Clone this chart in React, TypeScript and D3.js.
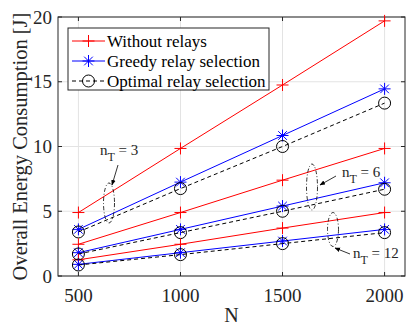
import React from 'react';
import * as d3 from 'd3';

// x values (number of nodes)
const nValues = [500, 1000, 1500, 2000];

// energy consumption per n_T
const withoutRelays3 = [4.9, 9.85, 14.75, 19.7];
const greedy3 = [3.6, 7.25, 10.85, 14.45];
const optimal3 = [3.4, 6.75, 10.0, 13.35];

const withoutRelays6 = [2.45, 4.9, 7.4, 9.85];
const greedy6 = [1.8, 3.6, 5.4, 7.2];
const optimal6 = [1.7, 3.35, 5.0, 6.7];

const withoutRelays12 = [1.25, 2.45, 3.7, 4.9];
const greedy12 = [0.9, 1.8, 2.7, 3.6];
const optimal12 = [0.85, 1.65, 2.5, 3.35];

const yTicks = [0, 5, 10, 15, 20];
const legendLabels = ['Without relays', 'Greedy relay selection', 'Optimal relay selection'];

type Kind = 'without' | 'greedy' | 'optimal';

const series: {kind: Kind, values: number[]}[] = [
  {kind: 'without', values: withoutRelays3},
  {kind: 'greedy', values: greedy3},
  {kind: 'optimal', values: optimal3},
  {kind: 'without', values: withoutRelays6},
  {kind: 'greedy', values: greedy6},
  {kind: 'optimal', values: optimal6},
  {kind: 'without', values: withoutRelays12},
  {kind: 'greedy', values: greedy12},
  {kind: 'optimal', values: optimal12},
];

const colorOf: Record<Kind, string> = {without: '#ff0000', greedy: '#0000ff', optimal: '#000000'};

const Marker: React.FC<{kind: Kind, x: number, y: number}> = ({kind, x, y}) => {
  const s = 6;
  if (kind === 'without') {
    return <path d={`M${x - s},${y}H${x + s}M${x},${y - s}V${y + s}`} stroke="#ff0000" strokeWidth={1}/>;
  }
  if (kind === 'greedy') {
    const d = s * 0.72;
    return <path d={`M${x - s},${y}H${x + s}M${x},${y - s}V${y + s}M${x - d},${y - d}L${x + d},${y + d}M${x - d},${y + d}L${x + d},${y - d}`}
                 stroke="#0000ff" strokeWidth={1}/>;
  }
  return <circle cx={x} cy={y} r={6} fill="none" stroke="#000" strokeWidth={1}/>;
};

const font = "'Liberation Serif', 'Times New Roman', Times, serif";

const App: React.FC = () => {
  const width = 407, height = 327;
  const margin = {top: 17, right: 2, bottom: 51, left: 58};
  const x = d3.scaleLinear().domain([400, 2100]).range([margin.left, width - margin.right]);
  const y = d3.scaleLinear().domain([0, 20]).range([height - margin.bottom, margin.top]);
  const line = d3.line<number>().x((_, i) => x(nValues[i])).y(d => y(d));
  const x0 = x.range()[0], x1 = x.range()[1], y0 = y.range()[0], y1 = y.range()[1];

  const legendRows = (['without', 'greedy', 'optimal'] as Kind[]);

  return (
    <svg width={width} height={height} style={{position: 'absolute', left: 0, top: 0, fontFamily: font}}>
      <rect x={0} y={0} width={width} height={height} fill="#fff"/>
      {/* grid */}
      {nValues.map(v => <line key={'gx' + v} x1={x(v)} x2={x(v)} y1={y0} y2={y1} stroke="#e3e3e3" strokeWidth={1}/>)}
      {yTicks.map(v => <line key={'gy' + v} x1={x0} x2={x1} y1={y(v)} y2={y(v)} stroke="#e3e3e3" strokeWidth={1}/>)}
      {/* box */}
      <rect x={x0} y={y1} width={x1 - x0} height={y0 - y1} fill="none" stroke="#262626" strokeWidth={1}/>
      {nValues.map(v => <g key={'tx' + v}>
        <line x1={x(v)} x2={x(v)} y1={y0} y2={y0 - 4} stroke="#262626"/>
        <line x1={x(v)} x2={x(v)} y1={y1} y2={y1 + 4} stroke="#262626"/>
        <text x={x(v)} y={302} textAnchor="middle" fontSize={19} fill="#262626">{v}</text>
      </g>)}
      {yTicks.map(v => <g key={'ty' + v}>
        <line x1={x0} x2={x0 + 4} y1={y(v)} y2={y(v)} stroke="#262626"/>
        <line x1={x1} x2={x1 - 4} y1={y(v)} y2={y(v)} stroke="#262626"/>
        <text x={x0 - 6} y={y(v) + 6.5} textAnchor="end" fontSize={19} fill="#262626">{v}</text>
      </g>)}
      {/* series */}
      {series.map((s, i) => <g key={'s' + i}>
        <path d={line(s.values)!} fill="none" stroke={colorOf[s.kind]} strokeWidth={1}
              strokeDasharray={s.kind === 'optimal' ? '4,3' : undefined}/>
        {s.values.map((v, j) => <Marker key={j} kind={s.kind} x={x(nValues[j])} y={y(v)}/>)}
      </g>)}
      {/* annotations */}
      <defs>
        <marker id="arr" viewBox="0 0 10 10" refX={9} refY={5} markerWidth={7} markerHeight={7} orient="auto">
          <path d="M0,1L10,5L0,9z" fill="#000"/>
        </marker>
      </defs>
      <g fill="none" stroke="#000" strokeWidth={0.8} strokeDasharray="4,2,1,2">
        <ellipse cx={109} cy={203} rx={5.5} ry={20}/>
        <ellipse cx={312} cy={187} rx={5.5} ry={23}/>
        <ellipse cx={333} cy={229.5} rx={5.5} ry={17}/>
      </g>
      <g stroke="#000" strokeWidth={0.8}>
        <line x1={118} y1={165} x2={112} y2={185} markerEnd="url(#arr)"/>
        <line x1={336} y1={176} x2={320} y2={185} markerEnd="url(#arr)"/>
        <line x1={350} y1={254} x2={335} y2={248} markerEnd="url(#arr)"/>
      </g>
      <g fontSize={15} fill="#262626">
        <text x={100} y={155}>n<tspan dy={6} fontSize={12}>T</tspan><tspan dy={-6}> = 3</tspan></text>
        <text x={342} y={177}>n<tspan dy={6} fontSize={12}>T</tspan><tspan dy={-6}> = 6</tspan></text>
        <text x={353} y={258}>n<tspan dy={6} fontSize={12}>T</tspan><tspan dy={-6}> = 12</tspan></text>
      </g>
      {/* legend */}
      <rect x={68} y={28} width={201} height={62} fill="#fff" stroke="#262626" strokeWidth={1}/>
      {legendRows.map((k, i) => {
        const ly = 41 + i * 20;
        return <g key={'l' + k}>
          <line x1={72} x2={105} y1={ly} y2={ly} stroke={colorOf[k]} strokeDasharray={k === 'optimal' ? '4,3' : undefined}/>
          <Marker kind={k} x={88.5} y={ly}/>
          <text x={107} y={ly + 5.5} fontSize={17} fill="#000">{legendLabels[i]}</text>
        </g>;
      })}
      {/* axis labels */}
      <text x={x((400 + 2100) / 2)} y={322} textAnchor="middle" fontSize={20} fill="#262626">N</text>
      <text transform={`translate(27,${(y0 + y1) / 2}) rotate(-90)`} textAnchor="middle" fontSize={20.5}
            fill="#262626">Overall Energy Consumption [J]</text>
    </svg>
  );
};

export default App;
